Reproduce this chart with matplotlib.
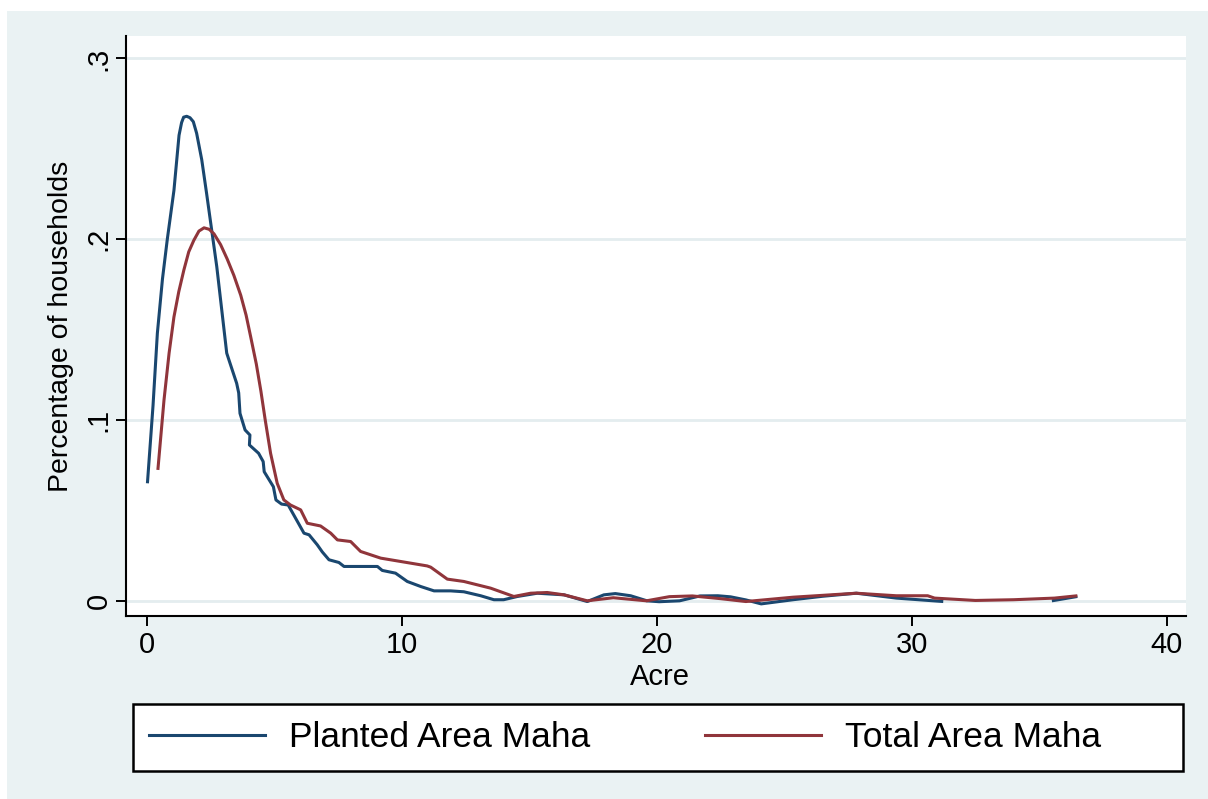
import numpy as np
import matplotlib
matplotlib.use("Agg")
import matplotlib.pyplot as plt
from matplotlib.patches import Rectangle
from matplotlib.lines import Line2D

plt.rcParams['font.family'] = ['Liberation Sans', 'DejaVu Sans']

# Kernel density estimates (acres vs. share of households)
planted_x = [0.03, 0.25, 0.42, 0.62, 0.81, 1.07, 1.18, 1.27, 1.37, 1.45, 1.57, 1.7, 1.83,
             1.96, 2.16, 2.35, 2.75, 3.14, 3.27, 3.53, 3.61, 3.66, 3.86, 4.05, 4.03, 4.39,
             4.57, 4.61, 4.97, 5.07, 5.29, 5.55, 5.88, 6.17, 6.37, 6.69, 6.89, 7.15, 7.54,
             7.74, 9.05, 9.24, 9.76, 10.22, 10.75, 11.27, 11.92, 12.44, 13.1, 13.62, 14.0,
             14.54, 15.32, 16.37, 17.28, 17.93, 18.38, 18.98, 19.62, 20.1, 20.9, 21.7, 22.4,
             22.9, 23.5, 24.1, 25.35, 26.5, 27.83, 29.4, 31.24, np.nan, 35.5, 36.5]
planted_y = [0.065, 0.108, 0.148, 0.178, 0.200, 0.227, 0.2438, 0.2575, 0.2645, 0.2675,
             0.268, 0.2672, 0.265, 0.2586, 0.244, 0.2254, 0.1848, 0.137, 0.1314, 0.1203,
             0.115, 0.1037, 0.0945, 0.0917, 0.0862, 0.0816, 0.077, 0.0714, 0.0631, 0.0558,
             0.0535, 0.053, 0.0447, 0.0374, 0.0365, 0.031, 0.027, 0.0227, 0.0212, 0.019,
             0.019, 0.0168, 0.0153, 0.0107, 0.0079, 0.0055, 0.0055, 0.005, 0.0028, 0.0006,
             0.0006, 0.0024, 0.0042, 0.0033, -0.0004, 0.0033, 0.0040, 0.0028, 0.0, -0.0005,
             0.0, 0.0027, 0.0028, 0.0022, 0.0005, -0.0017, 0.0006, 0.0025, 0.0042, 0.0015,
             -0.0004, np.nan, 0.0, 0.0024]

total_x = [0.44, 0.68, 0.88, 1.07, 1.26, 1.46, 1.65, 1.85, 2.05, 2.25, 2.45, 2.64, 2.9,
           3.16, 3.42, 3.69, 3.9, 4.08, 4.3, 4.48, 4.65, 4.86, 5.12, 5.38, 5.64, 6.04, 6.3,
           6.82, 7.22, 7.48, 8.0, 8.39, 9.18, 11.0, 11.14, 11.79, 12.44, 13.49, 14.4,
           15.06, 15.71, 16.37, 17.28, 18.3, 19.6, 20.5, 21.4, 22.5, 23.5, 25.35, 27.83,
           29.4, 30.63, 30.9, 32.5, 34.0, 35.6, 36.5]
total_y = [0.0724, 0.111, 0.137, 0.157, 0.171, 0.183, 0.193, 0.1994, 0.2045, 0.2063,
           0.2055, 0.203, 0.197, 0.189, 0.180, 0.169, 0.158, 0.146, 0.131, 0.116, 0.100,
           0.0816, 0.065, 0.0558, 0.053, 0.0503, 0.0429, 0.0414, 0.0374, 0.0337, 0.0328,
           0.0273, 0.0236, 0.0193, 0.0186, 0.012, 0.0107, 0.007, 0.0024, 0.0042, 0.0046,
           0.0033, 0.0, 0.0017, 0.0, 0.0023, 0.0027, 0.0012, -0.0004, 0.002, 0.0042,
           0.0028, 0.0028, 0.0015, 0.0002, 0.0006, 0.0015, 0.0028]

x_ticks = [0, 10, 20, 30, 40]
x_tick_labels = ["0", "10", "20", "30", "40"]
y_ticks = [0, 0.1, 0.2, 0.3]
y_tick_labels = ["0", ".1", ".2", ".3"]
series_labels = ["Planted Area Maha", "Total Area Maha"]

NAVY = "#1a476f"
MAROON = "#90353b"
BG = "#eaf2f3"
GRID = "#e4edef"

W, H = 1208, 799
fig = plt.figure(figsize=(W / 100, H / 100), dpi=100, facecolor="white")

# graph region background
fig.add_artist(Rectangle((7 / W, 0), 1, 1 - 11 / H, transform=fig.transFigure,
                         facecolor=BG, edgecolor="none", zorder=-5))

left, right, top, bottom = 126, 1186, 36, 616
ax = fig.add_axes([left / W, 1 - bottom / H, (right - left) / W, (bottom - top) / H])
ax.set_facecolor("white")

ax.plot(planted_x, planted_y, color=NAVY, lw=2.2, zorder=3,
        solid_joinstyle="round", solid_capstyle="butt")
ax.plot(total_x, total_y, color=MAROON, lw=2.2, zorder=3,
        solid_joinstyle="round", solid_capstyle="butt")

ax.set_xlim(-0.81, 40.76)
ax.set_ylim(-0.0084, 0.3124)

ax.set_xticks(x_ticks)
ax.set_xticklabels(x_tick_labels, fontsize=21)
ax.set_yticks(y_ticks)
ax.set_yticklabels(y_tick_labels, fontsize=21, rotation=90, va="center")

ax.tick_params(axis="x", length=7.5, width=1.4, pad=3.5, color="black")
ax.tick_params(axis="y", length=7.5, width=1.4, pad=2, color="black")

for side in ("top", "right"):
    ax.spines[side].set_visible(False)
for side in ("left", "bottom"):
    ax.spines[side].set_linewidth(1.5)
    ax.spines[side].set_color("black")

ax.yaxis.grid(True, color=GRID, lw=2.0, zorder=1)
ax.set_axisbelow(True)

ax.set_xlabel("Acre", fontsize=21)
ax.xaxis.set_label_coords(0.504, -0.081)
ax.set_ylabel("Percentage of households", fontsize=20.5)
ax.yaxis.set_label_coords(-0.049, 0.5)

# legend box
lx0, ly0, lx1, ly1 = 133, 704, 1183, 771
fig.add_artist(Rectangle((lx0 / W, 1 - ly1 / H), (lx1 - lx0) / W, (ly1 - ly0) / H,
                         transform=fig.transFigure, facecolor="white",
                         edgecolor="black", lw=1.8, zorder=2))
handles = [Line2D([], [], color=NAVY, lw=2.2), Line2D([], [], color=MAROON, lw=2.2)]
leg = fig.legend(handles, series_labels, loc="center left", ncol=2,
                 bbox_to_anchor=(149 / W, 1 - 737.5 / H), frameon=False,
                 fontsize=25.5, borderpad=0, borderaxespad=0, handlelength=3.28,
                 handletextpad=0.68, columnspacing=3.22)
leg.set_zorder(3)

fig.savefig("out.png", dpi=100, facecolor="white")
